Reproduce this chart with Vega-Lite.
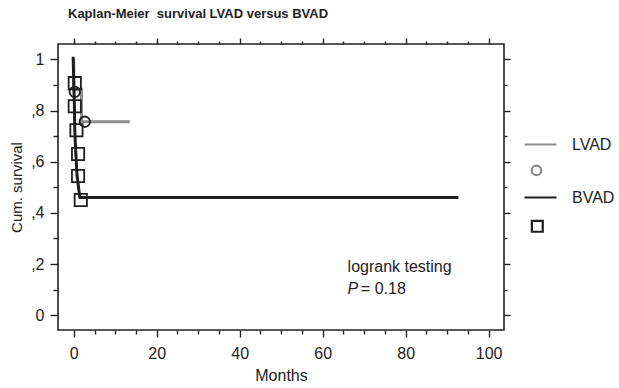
{
  "$schema": "https://vega.github.io/schema/vega-lite/v6.json",
  "autosize": {"type": "none"},
  "width": 446,
  "height": 286,
  "padding": {"left": 58, "top": 44, "right": 115, "bottom": 58},
  "background": "white",
  "config": {
    "font": "Liberation Sans",
    "view": {"stroke": "#222", "strokeWidth": 1.6},
    "axis": {"domain": false, "tickColor": "#222", "tickWidth": 1.4, "labelColor": "#222", "labelFont": "Liberation Sans", "titleFont": "Liberation Sans", "titleFontWeight": "normal", "titleColor": "#222", "grid": false}
  },
  "title": {"text": "Kaplan-Meier\u00a0 survival LVAD versus BVAD", "anchor": "start", "frame": "group", "dx": 10, "offset": 16, "fontSize": 13, "fontWeight": "bold", "color": "#222", "font": "Liberation Sans"},
  "datasets": {
    "curves": [
      {"group": "LVAD", "i": 1, "months": 0, "surv": 1.0},
      {"group": "LVAD", "i": 2, "months": 0, "surv": 0.883},
      {"group": "LVAD", "i": 3, "months": 1.85, "surv": 0.883},
      {"group": "LVAD", "i": 4, "months": 1.85, "surv": 0.756},
      {"group": "LVAD", "i": 5, "months": 13.5, "surv": 0.756},
      {"group": "BVAD", "i": 1, "months": -0.15, "surv": 1.01},
      {"group": "BVAD", "i": 2, "months": 0, "surv": 0.91},
      {"group": "BVAD", "i": 3, "months": 0.15, "surv": 0.82},
      {"group": "BVAD", "i": 4, "months": 0.25, "surv": 0.72},
      {"group": "BVAD", "i": 5, "months": 0.5, "surv": 0.63},
      {"group": "BVAD", "i": 6, "months": 0.8, "surv": 0.545},
      {"group": "BVAD", "i": 7, "months": 1.45, "surv": 0.46},
      {"group": "BVAD", "i": 8, "months": 92.7, "surv": 0.46}
    ],
    "censored": [
      {"group": "LVAD", "months": 0.24, "surv": 0.873},
      {"group": "LVAD", "months": 2.65, "surv": 0.756},
      {"group": "BVAD", "months": 0.24, "surv": 0.907},
      {"group": "BVAD", "months": 0.24, "surv": 0.817},
      {"group": "BVAD", "months": 0.65, "surv": 0.723},
      {"group": "BVAD", "months": 1.04, "surv": 0.63},
      {"group": "BVAD", "months": 1.04, "surv": 0.544},
      {"group": "BVAD", "months": 1.69, "surv": 0.45}
    ]
  },
  "resolve": {"scale": {"x": "independent", "y": "independent"}, "axis": {"x": "independent", "y": "independent"}},
  "layer": [
    {
      "data": {"name": "curves"},
      "mark": {"type": "line", "strokeWidth": 3},
      "encoding": {
        "x": {"field": "months", "type": "quantitative", "scale": {"domain": [-3.8, 103.7], "nice": false, "zero": false},
              "axis": {"orient": "bottom", "values": [0, 20, 40, 60, 80, 100], "tickSize": 7, "labelFontSize": 16, "labelPadding": 8, "title": "Months", "titleFontSize": 16, "titlePadding": 6}},
        "y": {"field": "surv", "type": "quantitative", "scale": {"domain": [-0.058, 1.06], "nice": false, "zero": false},
              "axis": {"orient": "left", "values": [0, 0.2, 0.4, 0.6, 0.8, 1], "tickSize": 8, "labelFontSize": 16, "labelPadding": 6,
                       "labelExpr": "datum.value == 0 ? '0' : datum.value == 1 ? '1' : ',' + format(datum.value * 10, 'd')",
                       "title": "Cum. survival", "titleFontSize": 15, "titlePadding": 6}},
        "color": {"field": "group", "type": "nominal",
                  "scale": {"domain": ["LVAD", "BVAD"], "range": ["#8c8c8c", "#1e1e1e"]},
                  "legend": {"title": null, "orient": "none", "legendX": 465, "legendY": 83, "symbolSize": 1024, "labelOffset": 14, "labelFontSize": 16, "labelColor": "#222", "labelFont": "Liberation Sans", "rowPadding": 0,
                             "encode": {"symbols": {"update": {
                               "shape": {"signal": "datum.value === 'LVAD' ? 'M-1,0L1,0M-0.55,1.62A0.3,0.3 0 1,0 0.05,1.62A0.3,0.3 0 1,0 -0.55,1.62' : 'M-1,0L1,0M-0.54,1.46L0.14,1.46L0.14,2.14L-0.54,2.14Z'"},
                               "strokeWidth": {"value": 2.2},
                               "fill": {"value": "transparent"}}}}}},
        "order": {"field": "i", "type": "quantitative"}
      }
    },
    {
      "data": {"name": "censored"},
      "transform": [{"filter": "datum.group === 'LVAD'"}],
      "mark": {"type": "point", "shape": "circle", "size": 110, "filled": false, "strokeWidth": 1.8, "color": "#1e1e1e", "opacity": 1},
      "encoding": {
        "x": {"field": "months", "type": "quantitative", "scale": {"domain": [-3.8, 103.7], "nice": false, "zero": false},
              "axis": {"orient": "bottom", "values": [5, 10, 15, 25, 30, 35, 45, 50, 55, 65, 70, 75, 85, 90, 95], "tickSize": 4, "labels": false, "title": null}},
        "y": {"field": "surv", "type": "quantitative", "scale": {"domain": [-0.058, 1.06], "nice": false, "zero": false},
              "axis": {"orient": "left", "values": [0.1, 0.3, 0.5, 0.7, 0.9], "tickSize": 5, "labels": false, "title": null}}
      }
    },
    {
      "data": {"name": "censored"},
      "transform": [{"filter": "datum.group === 'BVAD'"}],
      "mark": {"type": "point", "shape": "square", "size": 150, "filled": false, "strokeWidth": 1.8, "color": "#1e1e1e", "opacity": 1},
      "encoding": {
        "x": {"field": "months", "type": "quantitative", "scale": {"domain": [-3.8, 103.7], "nice": false, "zero": false}, "axis": null},
        "y": {"field": "surv", "type": "quantitative", "scale": {"domain": [-0.058, 1.06], "nice": false, "zero": false}, "axis": null}
      }
    },
    {
      "data": {"values": [{}]},
      "mark": {"type": "text", "text": "logrank testing", "align": "left", "baseline": "middle", "fontSize": 16, "color": "#222", "font": "Liberation Sans"},
      "encoding": {
        "x": {"datum": 66, "type": "quantitative", "scale": {"domain": [-3.8, 103.7], "nice": false, "zero": false},
              "axis": {"orient": "top", "values": [0, 20, 40, 60, 80, 100], "tickSize": 6, "labels": false, "title": null}},
        "y": {"datum": 0.188, "type": "quantitative", "scale": {"domain": [-0.058, 1.06], "nice": false, "zero": false},
              "axis": {"orient": "right", "values": [0, 0.2, 0.4, 0.6, 0.8, 1], "tickSize": 6, "labels": false, "title": null}}
      }
    },
    {
      "data": {"values": [{}]},
      "mark": {"type": "text", "text": "P", "align": "left", "baseline": "middle", "fontSize": 16, "fontStyle": "italic", "color": "#222", "font": "Liberation Sans"},
      "encoding": {
        "x": {"datum": 66, "type": "quantitative", "scale": {"domain": [-3.8, 103.7], "nice": false, "zero": false},
              "axis": {"orient": "top", "values": [5, 10, 15, 25, 30, 35, 45, 50, 55, 65, 70, 75, 85, 90, 95], "tickSize": 3, "labels": false, "title": null}},
        "y": {"datum": 0.102, "type": "quantitative", "scale": {"domain": [-0.058, 1.06], "nice": false, "zero": false},
              "axis": {"orient": "right", "values": [0.1, 0.3, 0.5, 0.7, 0.9], "tickSize": 3, "labels": false, "title": null}}
      }
    },
    {
      "data": {"values": [{}]},
      "mark": {"type": "text", "text": "= 0.18", "align": "left", "baseline": "middle", "fontSize": 16, "color": "#222", "font": "Liberation Sans"},
      "encoding": {
        "x": {"datum": 69.2, "type": "quantitative", "scale": {"domain": [-3.8, 103.7], "nice": false, "zero": false}, "axis": null},
        "y": {"datum": 0.102, "type": "quantitative", "scale": {"domain": [-0.058, 1.06], "nice": false, "zero": false}, "axis": null}
      }
    }
  ]
}
